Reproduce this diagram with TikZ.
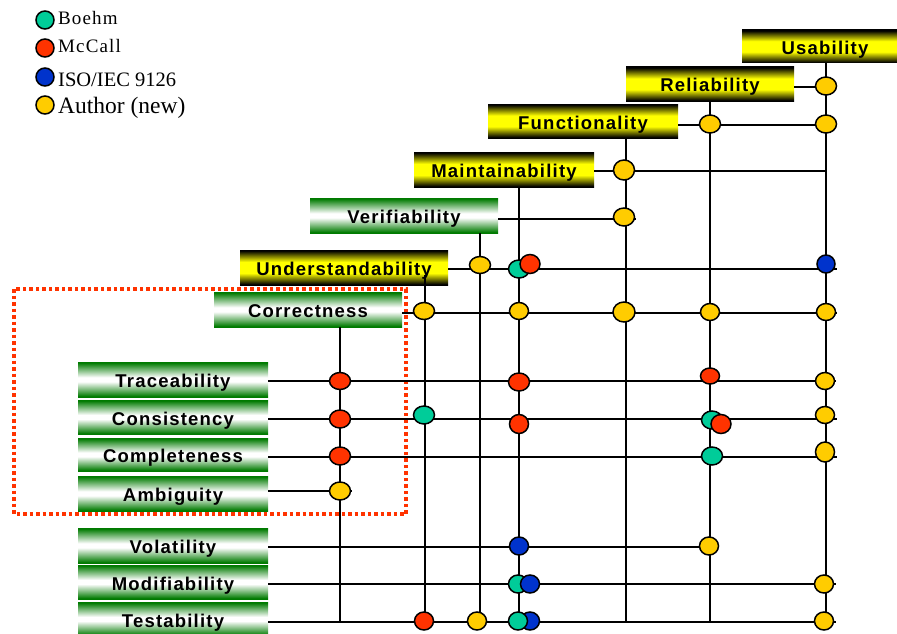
\documentclass[tikz,border=0pt]{standalone}
\usepackage{fontspec}
\setmainfont{Liberation Serif}
\newfontfamily\barfont{Liberation Sans}[LetterSpace=6.5]
\newfontfamily\legfont{Liberation Serif}[LetterSpace=6]
\usetikzlibrary{shapes.geometric}

\definecolor{bgreen}{HTML}{00CC99}
\definecolor{mred}{HTML}{FF3300}
\definecolor{iblue}{HTML}{0033CC}
\definecolor{ayellow}{HTML}{FFCC00}
\definecolor{bardark}{HTML}{007A00}
\definecolor{baryellow}{HTML}{FFFF00}

% bar shadings: the path box spans 25bp..75bp
\pgfdeclareverticalshading{greenbar}{100bp}{color(0bp)=(bardark); color(26bp)=(bardark); color(47bp)=(white); color(53bp)=(white); color(74bp)=(bardark); color(100bp)=(bardark)}
\pgfdeclareverticalshading{yellowbar}{100bp}{color(0bp)=(black); color(26bp)=(black); color(42bp)=(baryellow); color(58bp)=(baryellow); color(74bp)=(black); color(100bp)=(black)}

\tikzset{
  bar/.style={rectangle, inner sep=0pt, text=black, text height=16pt, text depth=0pt,
    font=\barfont\bfseries\fontsize{18.5}{20}\selectfont},
  gbar/.style={bar, shade, shading=greenbar},
  ybar/.style={bar, shade, shading=yellowbar},
  wire/.style={line width=2pt, black},
  dot/.style={ellipse, draw=black, line width=1.5pt, inner sep=0pt,
    minimum width=21pt, minimum height=18pt},
  ldot/.style={circle, draw=black, line width=1.5pt, inner sep=0pt,
    minimum size=18pt},
  ltext/.style={anchor=base west, inner sep=0pt},
  scope box/.style={draw=mred, line width=3.5pt, dash pattern=on 3.5pt off 3pt}
}

\begin{document}
\begin{tikzpicture}[x=1pt, y=-1pt]
\useasboundingbox (0,0) rectangle (897,634);

% dotted frame around the requirement-level attributes
\draw[scope box] (14,289) rectangle (406,514);

% attribute bars
\node[ybar, minimum width=166pt, minimum height=33pt] (usa) at (825,46.5) {Usability};
\node[ybar, minimum width=168pt, minimum height=34pt] (rel) at (710,84) {Reliability};
\node[ybar, minimum width=190pt, minimum height=34pt] (fun) at (583,121) {Functionality};
\node[ybar, minimum width=180pt, minimum height=35pt] (mai) at (504,169.5) {Maintainability};
\node[gbar, minimum width=188pt, minimum height=35pt] (ver) at (404,215.5) {Verifiability};
\node[ybar, minimum width=208pt, minimum height=35pt] (und) at (344,267.5) {Understandability};
\node[gbar, minimum width=188pt, minimum height=35pt] (cor) at (308,309.5) {Correctness};
\node[gbar, minimum width=190pt, minimum height=35pt] (tra) at (173,379.5) {Traceability};
\node[gbar, minimum width=190pt, minimum height=34pt] (con) at (173,417) {Consistency};
\node[gbar, minimum width=190pt, minimum height=33pt] (com) at (173,454.5) {Completeness};
\node[gbar, minimum width=190pt, minimum height=35pt] (amb) at (173,493.5) {Ambiguity};
\node[gbar, minimum width=190pt, minimum height=35pt] (vol) at (173,545.5) {Volatility};
\node[gbar, minimum width=190pt, minimum height=34pt] (mod) at (173,582) {Modifiability};
\node[gbar, minimum width=190pt, minimum height=34pt] (tes) at (173,619) {Testability};

% free ends of the row lines
\coordinate (eRel) at (826,87);
\coordinate (eFun) at (826,125);
\coordinate (eMai) at (826,171);
\coordinate (eVer) at (636,219);
\coordinate (eUnd) at (837,269);
\coordinate (eCor) at (837,313);
\coordinate (eTra) at (836,381);
\coordinate (eCon) at (837,419);
\coordinate (eCom) at (837,457);
\coordinate (eAmb) at (352,491);
\coordinate (eVol) at (712,547);
\coordinate (eMod) at (836,584);
\coordinate (eTes) at (836,622);

% free ends of the column lines
\coordinate (bCor) at (340,622);
\coordinate (bUnd) at (425,622);
\coordinate (bVer) at (480,622);
\coordinate (bMai) at (519,622);
\coordinate (bFun) at (626,622);
\coordinate (bRel) at (710,622);
\coordinate (bUsa) at (826,622);

% row lines
\foreach \b/\e in {rel/eRel, fun/eFun, mai/eMai, ver/eVer, und/eUnd, cor/eCor,
                   tra/eTra, con/eCon, com/eCom, amb/eAmb, vol/eVol, mod/eMod, tes/eTes}
  \draw[wire] (\b.east |- \e) -- (\e);

% column lines
\foreach \b/\e in {cor/bCor, ver/bVer, mai/bMai, fun/bFun, rel/bRel, usa/bUsa}
  \draw[wire] (\b.south -| \e) -- (\e);
\draw[wire] (und.south -| bUnd) ++(0,-10) -- (bUnd);

% Reliability / Functionality / Maintainability / Verifiability rows
\node[dot, fill=ayellow] (d01) at (826,86) {};
\node[dot, fill=ayellow] (d02) at (710,124) {};
\node[dot, fill=ayellow] (d03) at (826,124) {};
\node[dot, fill=ayellow, minimum height=20pt] (d04) at (624,170) {};
\node[dot, fill=ayellow] (d05) at (624,217) {};

% Understandability row
\node[dot, fill=ayellow, minimum height=17pt] (d06) at (480,265) {};
\node[dot, fill=bgreen] (d07) at (519,269) {};
\node[dot, fill=mred, minimum width=20pt, minimum height=19pt] (d08) at (530,264) {};
\node[ldot, fill=iblue] (d09) at (826,264) {};

% Correctness row
\node[dot, fill=ayellow, minimum height=17pt] (d10) at (424,311) {};
\node[dot, fill=ayellow, minimum width=19pt, minimum height=17pt] (d11) at (519,311) {};
\node[dot, fill=ayellow, minimum width=22pt, minimum height=20pt] (d12) at (624,312) {};
\node[dot, fill=ayellow, minimum width=19pt, minimum height=17pt] (d13) at (710,312) {};
\node[dot, fill=ayellow, minimum width=19pt, minimum height=17pt] (d14) at (826,312) {};

% Traceability row
\node[dot, fill=mred, minimum height=17pt] (d15) at (340,381) {};
\node[dot, fill=mred] (d16) at (519,382) {};
\node[dot, fill=mred, minimum width=19pt, minimum height=16pt] (d17) at (710,376) {};
\node[dot, fill=ayellow, minimum width=19pt, minimum height=17pt] (d18) at (825,381) {};

% Consistency row
\node[dot, fill=mred] (d19) at (340,419) {};
\node[dot, fill=bgreen] (d20) at (424,415) {};
\node[dot, fill=mred, minimum width=19pt, minimum height=19pt] (d21) at (519,424) {};
\node[dot, fill=bgreen] (d22) at (712,420) {};
\node[dot, fill=mred, minimum width=20pt, minimum height=19pt] (d23) at (721,424) {};
\node[dot, fill=ayellow, minimum width=19pt, minimum height=17pt] (d24) at (825,415) {};

% Completeness row
\node[dot, fill=mred] (d25) at (340,456) {};
\node[dot, fill=bgreen] (d26) at (712,456) {};
\node[dot, fill=ayellow, minimum width=19pt, minimum height=20pt] (d27) at (825,452) {};

% Ambiguity row
\node[dot, fill=ayellow] (d28) at (340,491) {};

% Volatility row
\node[dot, fill=iblue, minimum width=19pt] (d29) at (519,546) {};
\node[dot, fill=ayellow, minimum width=19pt] (d30) at (709,546) {};

% Modifiability row
\node[dot, fill=bgreen, minimum width=19pt] (d31) at (518,584) {};
\node[dot, fill=iblue, minimum width=19pt] (d32) at (530,584) {};
\node[dot, fill=ayellow, minimum width=19pt] (d33) at (824,584) {};

% Testability row
\node[dot, fill=mred, minimum width=19pt] (d34) at (424,621) {};
\node[dot, fill=ayellow, minimum width=19pt] (d35) at (477,621) {};
\node[dot, fill=iblue, minimum width=19pt] (d36) at (530,621) {};
\node[dot, fill=bgreen, minimum width=19pt] (d37) at (518,621) {};
\node[dot, fill=ayellow, minimum width=19pt] (d38) at (824,621) {};

% legend
\node[ldot, fill=bgreen] (lg1) at (45,20) {};
\node[ldot, fill=mred] (lg2) at (45,48) {};
\node[ldot, fill=iblue] (lg3) at (45,77) {};
\node[ldot, fill=ayellow] (lg4) at (45,105) {};
\node[ltext, font=\legfont\fontsize{19}{22}\selectfont] (lt1) at (58,25) {Boehm};
\node[ltext, font=\legfont\fontsize{19}{22}\selectfont] (lt2) at (58,53) {McCall};
\node[ltext, font=\fontsize{20.5}{24}\selectfont] (lt3) at (58,86) {ISO/IEC 9126};
\node[ltext, font=\fontsize{23.5}{27}\selectfont] (lt4) at (58,113) {Author (new)};
\end{tikzpicture}
\end{document}
